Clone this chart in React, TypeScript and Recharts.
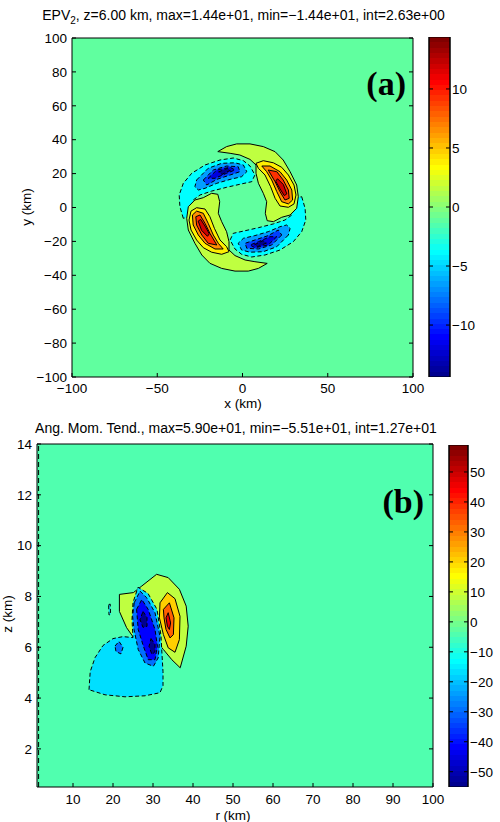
import { Bar, BarChart, CartesianGrid, ReferenceLine, Scatter, ScatterChart, XAxis, YAxis } from 'recharts';

// ---------- panel (a): EPV2 at z = 6 km ----------
const epvMin = -14.4;
const epvMax = 14.4;
const epvInt = 2.63;
const epvXTicks = [-100, -50, 0, 50, 100];
const epvYTicks = [-100, -80, -60, -40, -20, 0, 20, 40, 60, 80, 100];
const epvBarTicks = [-10, -5, 0, 5, 10];

// contour polygons [x km, y km]
const epvNW1 = [[-34.7, -6.4], [-36.7, 0.5], [-37.1, 7.4], [-34.7, 14.3], [-29.8, 20.2], [-22.0, 25.1], [-13.2, 28.0], [-5.4, 29.2], [0.5, 27.6], [4.4, 24.5], [7.3, 19.2], [5.4, 15.2], [-0.5, 13.9], [-9.3, 11.9], [-18.1, 9.7], [-24.9, 7.4], [-28.9, 4.4], [-30.4, -1.5], [-31.8, -5.8]];
const epvSE1 = [[34.7, 6.4], [36.7, -0.5], [37.1, -7.4], [34.7, -14.3], [29.8, -20.2], [22.0, -25.1], [13.2, -28.0], [5.4, -29.2], [-0.5, -27.6], [-4.4, -24.5], [-7.3, -19.2], [-5.4, -15.2], [0.5, -13.9], [9.3, -11.9], [18.1, -9.7], [24.9, -7.4], [28.9, -4.4], [30.4, 1.5], [31.8, 5.8]];
const epvNE1 = [[-14.5, 33.0], [-9.3, 35.9], [-3.4, 37.5], [4.4, 37.5], [12.2, 35.9], [19.1, 32.9], [23.9, 28.0], [27.9, 21.1], [31.8, 13.3], [32.7, 6.4], [31.8, -0.5], [27.9, -4.4], [23.0, -5.8], [18.1, -8.4], [14.5, -7.8], [13.4, -3.4], [14.2, 3.4], [12.2, 8.4], [9.3, 14.3], [7.9, 20.2], [7.9, 25.1], [4.4, 28.4], [-1.5, 31.0], [-7.3, 32.0]];
const epvSW1 = [[14.5, -33.0], [9.3, -35.9], [3.4, -37.5], [-4.4, -37.5], [-12.2, -35.9], [-19.1, -32.9], [-23.9, -28.0], [-27.9, -21.1], [-31.8, -13.3], [-32.7, -6.4], [-31.8, 0.5], [-27.9, 4.4], [-23.0, 5.8], [-18.1, 8.4], [-14.5, 7.8], [-13.4, 3.4], [-14.2, -3.4], [-12.2, -8.4], [-9.3, -14.3], [-7.9, -20.2], [-7.9, -25.1], [-4.4, -28.4], [1.5, -31.0], [7.3, -32.0]];
const epvNE2 = [[7.9, 26.1], [12.2, 27.6], [18.1, 26.4], [23.0, 23.7], [26.9, 19.2], [30.2, 13.3], [31.4, 7.4], [30.2, 2.1], [26.9, 0.1], [22.0, 0.9], [19.1, 5.4], [16.5, 12.3], [13.2, 19.2], [9.3, 23.1]];
const epvSW2 = [[-7.9, -26.1], [-12.2, -27.6], [-18.1, -26.4], [-23.0, -23.7], [-26.9, -19.2], [-30.2, -13.3], [-31.4, -7.4], [-30.2, -2.1], [-26.9, -0.1], [-22.0, -0.9], [-19.1, -5.4], [-16.5, -12.3], [-13.2, -19.2], [-9.3, -23.1]];
const epvNE3 = [[11.3, 24.5], [16.1, 24.5], [22.0, 21.1], [25.9, 16.2], [28.9, 10.3], [29.4, 4.4], [26.9, 2.1], [23.0, 3.4], [20.1, 9.3], [17.1, 16.2], [14.2, 21.1]];
const epvSW3 = [[-11.3, -24.5], [-16.1, -24.5], [-22.0, -21.1], [-25.9, -16.2], [-28.9, -10.3], [-29.4, -4.4], [-26.9, -2.1], [-23.0, -3.4], [-20.1, -9.3], [-17.1, -16.2], [-14.2, -21.1]];
const epvNE4 = [[15.1, 22.1], [20.1, 21.1], [23.9, 16.2], [26.9, 10.3], [27.4, 5.4], [24.9, 4.4], [22.0, 9.3], [19.1, 15.2]];
const epvSW4 = [[-15.1, -22.1], [-20.1, -21.1], [-23.9, -16.2], [-26.9, -10.3], [-27.4, -5.4], [-24.9, -4.4], [-22.0, -9.3], [-19.1, -15.2]];
const epvNE5 = [[20.5, 17], [24, 13.5], [26, 8], [24.5, 7], [22, 11], [19.5, 15.5]];
const epvSW5 = [[-20.5, -17], [-24, -13.5], [-26, -8], [-24.5, -7], [-22, -11], [-19.5, -15.5]];
const epvNW2 = [[-26.9, 16.2], [-20.1, 23.1], [-12.2, 26.1], [-4.4, 26.4], [0.5, 25.1], [2.5, 21.1], [-0.5, 18.2], [-7.3, 16.6], [-15.1, 14.3], [-22.0, 11.3], [-25.9, 10.3], [-27.9, 12.3]];
const epvSE2 = [[26.9, -16.2], [20.1, -23.1], [12.2, -26.1], [4.4, -26.4], [-0.5, -25.1], [-2.5, -21.1], [0.5, -18.2], [7.3, -16.6], [15.1, -14.3], [22.0, -11.3], [25.9, -10.3], [27.9, -12.3]];
const epvNW3 = [[-23.0, 16.2], [-17.1, 22.1], [-9.3, 24.5], [-2.5, 24.1], [-1.5, 21.1], [-7.3, 19.2], [-15.1, 16.6], [-21.0, 13.3]];
const epvSE3 = [[23.0, -16.2], [17.1, -22.1], [9.3, -24.5], [2.5, -24.1], [1.5, -21.1], [7.3, -19.2], [15.1, -16.6], [21.0, -13.3]];
const epvNW4 = [[-20.1, 17.2], [-15.1, 22.1], [-7.3, 23.7], [-4.4, 22.1], [-9.3, 20.2], [-16.1, 17.2]];
const epvSE4 = [[20.1, -17.2], [15.1, -22.1], [7.3, -23.7], [4.4, -22.1], [9.3, -20.2], [16.1, -17.2]];
const epvNW5 = [[-14, 21], [-9, 23], [-7, 22], [-12, 19.5]];
const epvSE5 = [[14, -21], [9, -23], [7, -22], [12, -19.5]];

// ---------- panel (b): angular momentum tendency ----------
const amtMin = -55.1;
const amtMax = 59.0;
const amtInt = 12.68;
const amtXTicks = [10, 20, 30, 40, 50, 60, 70, 80, 90, 100];
const amtYTicks = [2, 4, 6, 8, 10, 12, 14];
const amtBarTicks = [-50, -40, -30, -20, -10, 0, 10, 20, 30, 40, 50];

// contour polygons [r km, z km]
const amtPos1 = [[21.6, 8.08], [25.1, 8.15], [27.2, 8.41], [30.9, 8.87], [33.8, 8.74], [36.6, 8.28], [38.3, 7.62], [38.8, 6.83], [38.3, 6.04], [36.8, 5.19], [34.7, 5.51], [32.6, 5.91], [30.5, 6.3], [25.5, 6.3], [23.4, 6.77], [21.6, 7.41]];
const amtPos2 = [[31.75, 7.75], [33.6, 8.15], [35.5, 7.91], [36.75, 7.22], [36.6, 6.3], [35.5, 5.8], [33.8, 5.98], [32.6, 6.5], [31.6, 7.16]];
const amtPos3 = [[32.6, 7.49], [34.1, 7.75], [35.25, 7.16], [35.1, 6.5], [34.25, 6.37], [33.25, 6.7], [32.75, 7.16]];
const amtPos4 = [[33.25, 7.16], [33.8, 7.36], [34.4, 6.96], [34.1, 6.7], [33.6, 6.83]];
const amtNeg1 = [[14.0, 4.33], [14.3, 5.04], [15.5, 5.59], [17.5, 6.07], [20.0, 6.34], [22.5, 6.42], [25.0, 6.38], [24.75, 7.09], [25.0, 7.76], [26.25, 8.36], [28.75, 8.12], [31.0, 7.49], [32.0, 6.46], [32.25, 5.71], [32.5, 5.04], [32.5, 4.49], [31.75, 4.21], [28.0, 4.09], [23.0, 4.05], [18.0, 4.13]];
const amtNegSpot = [[18.9, 7.68], [19.3, 7.7], [19.4, 7.29], [19.0, 7.27]];
const amtNeg2 = [[25.3, 7.75], [26.75, 8.21], [28.4, 7.95], [30.5, 7.36], [31.75, 6.43], [31.3, 5.58], [30.1, 5.25], [28.0, 5.38], [26.3, 5.91], [25.25, 6.7], [24.9, 7.22]];
const amtNeg2b = [[20.5, 6.05], [21.5, 6.23], [22.5, 6.0], [22.0, 5.74], [20.75, 5.83]];
const amtNeg3 = [[25.9, 7.49], [27.2, 7.88], [28.8, 7.49], [30.5, 6.7], [31.1, 6.04], [30.5, 5.51], [28.8, 5.51], [27.6, 6.04], [26.3, 6.7]];
const amtNeg4a = [[27.5, 7.41], [28.5, 7.17], [28.5, 6.82], [27.5, 6.78], [26.75, 7.09]];
const amtNeg4b = [[29.5, 6.34], [30.5, 6.11], [30.5, 5.83], [29.75, 5.71], [29.0, 6.03]];

// draw order: outer contours first
const epvLayers = [
  { pts: epvNW1, level: -1.25 }, { pts: epvSE1, level: -1.25 },
  { pts: epvNE1, level: 1.38 }, { pts: epvSW1, level: 1.38 },
  { pts: epvNE2, level: 4.01 }, { pts: epvSW2, level: 4.01 },
  { pts: epvNE3, level: 6.64 }, { pts: epvSW3, level: 6.64 },
  { pts: epvNE4, level: 9.27 }, { pts: epvSW4, level: 9.27 },
  { pts: epvNE5, level: 11.9 }, { pts: epvSW5, level: 11.9 },
  { pts: epvNW2, level: -3.88 }, { pts: epvSE2, level: -3.88 },
  { pts: epvNW3, level: -6.51 }, { pts: epvSE3, level: -6.51 },
  { pts: epvNW4, level: -9.14 }, { pts: epvSE4, level: -9.14 },
  { pts: epvNW5, level: -11.77 }, { pts: epvSE5, level: -11.77 },
];
const amtLayers = [
  { pts: amtPos1, level: 8.3 }, { pts: amtPos2, level: 20.98 },
  { pts: amtPos3, level: 33.66 }, { pts: amtPos4, level: 46.34 },
  { pts: amtNeg1, level: -4.38 }, { pts: amtNegSpot, level: -4.38 },
  { pts: amtNeg2, level: -17.06 }, { pts: amtNeg2b, level: -17.06 },
  { pts: amtNeg3, level: -29.74 }, { pts: amtNeg4a, level: -42.42 }, { pts: amtNeg4b, level: -42.42 },
];

// MATLAB jet(64)
function jet64(i: number): string {
  const u = (k: number) => (k < 1 || k > 47 ? 0 : k <= 16 ? k / 16 : k <= 31 ? 1 : (48 - k) / 16);
  const c = (v: number) => Math.round(v * 255);
  return `rgb(${c(u(i - 24))},${c(u(i - 8))},${c(u(i + 8))})`;
}
function bandColor(lower: number, min: number, max: number) {
  const idx = Math.min(64, Math.max(1, Math.floor(((lower - min) / (max - min)) * 64) + 1));
  return jet64(idx);
}
const levelColor = (level: number, int: number, min: number, max: number) =>
  bandColor(level < 0 ? level - int : level, min, max);

const toPts = (a: number[][]) => a.map(([x, y]) => ({ x, y }));
const fmtTick = (v: number) => (v < 0 ? `\u2212${-v}` : `${v}`);
const blank = () => '';
const noDot = () => <g />;

const fillLine = (fill: string, dashed: boolean) => (props: any) => {
  const pts: { x: number; y: number }[] = props.points || [];
  const d = pts.map((p, i) => `${i ? 'L' : 'M'}${p.x.toFixed(1)},${p.y.toFixed(1)}`).join('') + 'Z';
  return (
    <path d={d} fill={fill} stroke="#000" strokeWidth={1} strokeDasharray={dashed ? '4 2.5' : undefined} strokeLinejoin="round" />
  );
};

const jetStops = (id: string) => (
  <defs>
    <linearGradient id={id} x1="0" y1="1" x2="0" y2="0">
      {Array.from({ length: 64 }, (_, k) => [
        <stop key={`a${k}`} offset={k / 64} stopColor={jet64(k + 1)} />,
        <stop key={`b${k}`} offset={(k + 1) / 64} stopColor={jet64(k + 1)} />,
      ])}
    </linearGradient>
  </defs>
);

const tickStyle = { fill: '#000', fontSize: 13.5 };
const MINUS = '\u2212';

export default function App() {
  const epvBar = [{ k: 'c', v: [epvMin, epvMax] }];
  const amtBar = [{ k: 'c', v: [amtMin, amtMax] }];
  return (
    <div style={{ position: 'absolute', left: 0, top: 0, width: 500, height: 822, background: '#fff', fontFamily: '"Liberation Sans", Arial, sans-serif' }}>
      {/* panel (a) */}
      <div style={{ position: 'absolute', left: 0, top: 0 }}>
        <ScatterChart width={440} height={420} margin={{ top: 37, right: 26, bottom: 13, left: 32 }}>
          <CartesianGrid horizontal={false} vertical={false} fill={bandColor(-1.25, epvMin, epvMax)} fillOpacity={1} stroke="none" />
          {epvLayers.map((l, i) => (
            <Scatter key={i} data={toPts(l.pts)} line={fillLine(levelColor(l.level, epvInt, epvMin, epvMax), l.level < 0)} shape={noDot} isAnimationActive={false} />
          ))}
          <XAxis type="number" dataKey="x" domain={[-100, 100]} allowDataOverflow ticks={epvXTicks} interval={0} height={30} tickSize={-4} tickMargin={10} stroke="#000" tick={tickStyle} tickFormatter={fmtTick} />
          <XAxis xAxisId="t" orientation="top" type="number" domain={[-100, 100]} allowDataOverflow ticks={epvXTicks} interval={0} height={1} tickSize={-4} stroke="#000" tickFormatter={blank} />
          <YAxis type="number" dataKey="y" domain={[-100, 100]} allowDataOverflow ticks={epvYTicks} interval={0} width={40} tickSize={-4} tickMargin={9} stroke="#000" tick={tickStyle} tickFormatter={fmtTick} />
          <YAxis yAxisId="r" orientation="right" type="number" domain={[-100, 100]} allowDataOverflow ticks={epvYTicks} interval={0} width={1} tickSize={-4} stroke="#000" tickFormatter={blank} />
        </ScatterChart>
      </div>
      {/* colorbar (a) */}
      <div style={{ position: 'absolute', left: 420, top: 0 }}>
        <BarChart width={80} height={420} data={epvBar} margin={{ top: 37, right: 10, bottom: 43, left: 8 }} barCategoryGap={0}>
          {jetStops('jetA')}
          <XAxis dataKey="k" hide />
          <Bar dataKey="v" fill="url(#jetA)" stroke="#000" strokeWidth={1} isAnimationActive={false} />
          <YAxis orientation="right" type="number" domain={[epvMin, epvMax]} allowDataOverflow ticks={epvBarTicks} interval={0} width={40} tickSize={-4} tickMargin={6} stroke="#000" tick={tickStyle} tickFormatter={fmtTick} />
          <YAxis yAxisId="l" type="number" domain={[epvMin, epvMax]} allowDataOverflow ticks={epvBarTicks} interval={0} width={1} tickSize={-4} stroke="#000" tickFormatter={blank} />
        </BarChart>
      </div>
      {/* panel (b) */}
      <div style={{ position: 'absolute', left: 0, top: 420 }}>
        <ScatterChart width={460} height={402} margin={{ top: 23, right: 26, bottom: 5, left: 7 }}>
          <CartesianGrid horizontal={false} vertical={false} fill={bandColor(-4.38, amtMin, amtMax)} fillOpacity={1} stroke="none" />
          {amtLayers.map((l, i) => (
            <Scatter key={i} data={toPts(l.pts)} line={fillLine(levelColor(l.level, amtInt, amtMin, amtMax), l.level < 0)} shape={noDot} isAnimationActive={false} />
          ))}
          <ReferenceLine x={1.4} stroke="#000" strokeDasharray="5 3" />
          <XAxis type="number" dataKey="x" domain={[1, 100]} allowDataOverflow ticks={amtXTicks} interval={0} height={30} tickSize={-4} tickMargin={11} stroke="#000" tick={tickStyle} />
          <XAxis xAxisId="t" orientation="top" type="number" domain={[1, 100]} allowDataOverflow ticks={amtXTicks} interval={0} height={1} tickSize={-4} stroke="#000" tickFormatter={blank} />
          <YAxis type="number" dataKey="y" domain={[0.5, 14]} allowDataOverflow ticks={amtYTicks} interval={0} width={30} tickSize={-4} tickMargin={9} stroke="#000" tick={tickStyle} />
          <YAxis yAxisId="r" orientation="right" type="number" domain={[0.5, 14]} allowDataOverflow ticks={amtYTicks} interval={0} width={1} tickSize={-4} stroke="#000" tickFormatter={blank} />
        </ScatterChart>
      </div>
      {/* colorbar (b) */}
      <div style={{ position: 'absolute', left: 440, top: 420 }}>
        <BarChart width={60} height={402} data={amtBar} margin={{ top: 25, right: 1, bottom: 35, left: 8 }} barCategoryGap={0}>
          {jetStops('jetB')}
          <XAxis dataKey="k" hide />
          <Bar dataKey="v" fill="url(#jetB)" stroke="#000" strokeWidth={1} isAnimationActive={false} />
          <YAxis orientation="right" type="number" domain={[amtMin, amtMax]} allowDataOverflow ticks={amtBarTicks} interval={0} width={31} tickSize={-4} tickMargin={6} stroke="#000" tick={tickStyle} tickFormatter={fmtTick} />
          <YAxis yAxisId="l" type="number" domain={[amtMin, amtMax]} allowDataOverflow ticks={amtBarTicks} interval={0} width={1} tickSize={-4} stroke="#000" tickFormatter={blank} />
        </BarChart>
      </div>
      {/* titles and labels */}
      <svg width={500} height={822} style={{ position: 'absolute', left: 0, top: 0, pointerEvents: 'none' }}>
        <text x={243.5} y={20} textAnchor="middle" fontSize={14} fill="#000">
          <tspan>EPV</tspan>
          <tspan dy={4} fontSize={10}>2</tspan>
          <tspan dy={-4}>{`, z=6.00 km, max=1.44e+01, min=${MINUS}1.44e+01, int=2.63e+00`}</tspan>
        </text>
        <text x={243} y={408} textAnchor="middle" fontSize={13.5} fill="#000">x (km)</text>
        <text x={31} y={207} textAnchor="middle" fontSize={13.5} fill="#000" transform="rotate(-90 31 207)">y (km)</text>
        <text x={406} y={95} textAnchor="end" fontSize={34} fontWeight="bold" fontFamily='"Liberation Serif", serif' fill="#000">(a)</text>
        <text x={236} y={433} textAnchor="middle" fontSize={14} fill="#000">
          {`Ang. Mom. Tend., max=5.90e+01, min=${MINUS}5.51e+01, int=1.27e+01`}
        </text>
        <text x={233} y={820} textAnchor="middle" fontSize={13.5} fill="#000">r (km)</text>
        <text x={12} y={614} textAnchor="middle" fontSize={13.5} fill="#000" transform="rotate(-90 12 614)">z (km)</text>
        <text x={424} y={513} textAnchor="end" fontSize={34} fontWeight="bold" fontFamily='"Liberation Serif", serif' fill="#000">(b)</text>
      </svg>
    </div>
  );
}
